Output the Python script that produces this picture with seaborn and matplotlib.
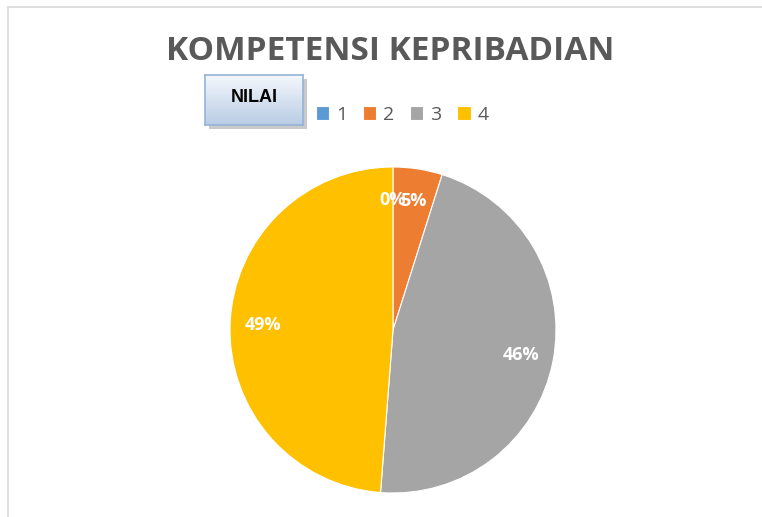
import numpy as np
import matplotlib
matplotlib.use("Agg")
import matplotlib.pyplot as plt
import seaborn as sns
from matplotlib.patches import Rectangle

# data
categories = ["1", "2", "3", "4"]
counts = [0, 2, 19, 20]
colors = ["#5B9BD5", "#ED7D31", "#A5A5A5", "#FFC000"]

sns.set_theme(style="white")
plt.rcParams['font.family'] = ['Open Sans', 'DejaVu Sans']

fig = plt.figure(figsize=(7.62, 5.17), dpi=100)
fig.patch.set_facecolor("white")

# outer chart border (top and left only visible)
fig.add_artist(plt.Line2D([8/762, 8/762], [0, 1 - 7/517], transform=fig.transFigure, color="#D9D9D9", lw=1.2))
fig.add_artist(plt.Line2D([8/762, 1], [1 - 7/517, 1 - 7/517], transform=fig.transFigure, color="#D9D9D9", lw=1.2))

# title
fig.text(390/762, 1 - 51/517, "KOMPETENSI KEPRIBADIAN", ha="center", va="center",
         fontsize=24, fontweight="bold", color="#595959")

# pie
ax = fig.add_axes([230/762, 24/517, 326/762, 326/517])
wedges, texts, autotexts = ax.pie(
    counts, colors=colors, startangle=90, counterclock=False,
    autopct="%1.0f%%", pctdistance=0.8,
    wedgeprops=dict(edgecolor="white", linewidth=0.8),
    textprops=dict(color="white", fontsize=13, fontweight="bold"))
ax.set_xlim(-1, 1)
ax.set_ylim(-1, 1)
ax.set_aspect("equal")
ax.axis("off")

# legend
leg = fig.legend(wedges, categories, loc="center left", bbox_to_anchor=(298/762, 1 - 115/517),
                 ncol=4, frameon=False, handlelength=0.7, handleheight=0.7,
                 handletextpad=0.35, columnspacing=0.8, fontsize=14)
for t in leg.get_texts():
    t.set_color("#595959")

# "NILAI" button with shadow and gradient
bx, by, bw, bh = 205/762, 1 - 125/517, 98/762, 50/517
fig.add_artist(Rectangle((bx + 4/762, by - 4/517), bw, bh, transform=fig.transFigure,
                         facecolor="#A6A6A6", edgecolor="none", alpha=0.6, zorder=-1))
bax = fig.add_axes([bx, by, bw, bh])
bax.set_zorder(2)
grad = np.linspace(0, 1, 50).reshape(-1, 1)
cmap = matplotlib.colors.LinearSegmentedColormap.from_list("btn", ["#F4F7FC", "#B9CDE5"])
bax.imshow(grad, aspect="auto", cmap=cmap, extent=[0, 1, 0, 1])
bax.set_xticks([])
bax.set_yticks([])
for s in bax.spines.values():
    s.set_color("#95B3D7")
    s.set_linewidth(1.2)
bax.text(0.5, 0.55, "NILAI", ha="center", va="center", fontsize=13, fontweight="bold",
         color="black", family=["Liberation Sans", "DejaVu Sans"])

fig.savefig("out.png", dpi=100)
